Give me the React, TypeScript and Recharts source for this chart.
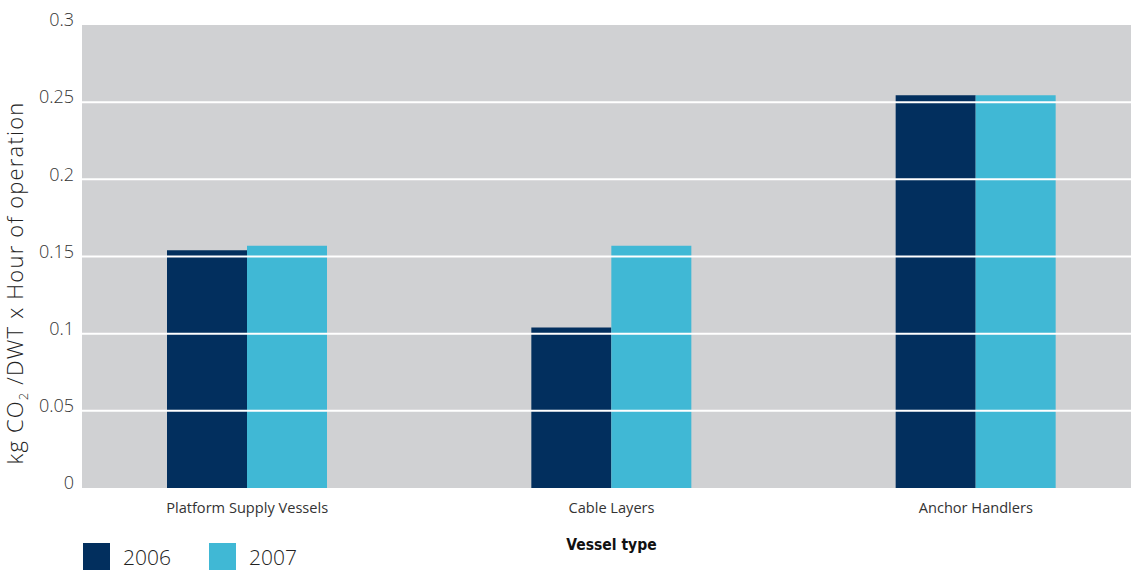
import { BarChart, Bar, XAxis, YAxis, CartesianGrid, ReferenceLine, Label } from 'recharts';

const categories = ['Platform Supply Vessels', 'Cable Layers', 'Anchor Handlers'];
const values2006 = [0.154, 0.104, 0.2545];
const values2007 = [0.157, 0.157, 0.2545];
const yTicks = [0, 0.05, 0.1, 0.15, 0.2, 0.25, 0.3];
const gridValues = [0.05, 0.1, 0.15, 0.2, 0.25];

const series = [
  { key: 'y2006', name: '2006', color: '#022f5e' },
  { key: 'y2007', name: '2007', color: '#40b8d5' },
];

const data = categories.map((name, i) => ({
  name,
  y2006: values2006[i],
  y2007: values2007[i],
}));

const FONT = '"Open Sans", "Noto Sans", sans-serif';

function YTick({ x, y, payload }: any) {
  return (
    <text x={x} y={y - 5} dy="0.35em" textAnchor="end" fontSize={18} fill="#333" fontFamily={FONT} fontWeight={300}>
      {payload.value}
    </text>
  );
}

function XTick({ x, y, payload }: any) {
  return (
    <text x={x} y={y + 17} textAnchor="middle" fontSize={14.6} fill="#333" fontFamily={FONT}>
      {payload.value}
    </text>
  );
}

function YTitle() {
  return (
    <text
      transform="translate(23, 283) rotate(-90)"
      textAnchor="middle"
      fontSize={22}
      letterSpacing={1.2}
      fill="#222"
      fontFamily={FONT}
      fontWeight={300}
    >
      kg CO
      <tspan fontSize={13} dy={5}>2</tspan>
      <tspan dy={-5}> /DWT x Hour of operation</tspan>
    </text>
  );
}

// legend sits below the axis title, near the bottom edge
function LegendBox() {
  return (
    <div style={{ position: 'absolute', left: 83, top: 543, display: 'flex', fontFamily: FONT }}>
      {series.map((s) => (
        <div key={s.key} style={{ display: 'flex', alignItems: 'center', width: 126, height: 27 }}>
          <div style={{ width: 27, height: 27, background: s.color }} />
          <span style={{ marginLeft: 13, fontSize: 21, lineHeight: '24px', color: '#222', fontWeight: 300 }}>{s.name}</span>
        </div>
      ))}
    </div>
  );
}

export default function App() {
  return (
    <div style={{ position: 'absolute', left: 0, top: 0, width: 1131, height: 571, background: '#fff', overflow: 'hidden' }}>
      <BarChart
        width={1131}
        height={571}
        data={data}
        margin={{ top: 25, right: 0, bottom: 0, left: 0 }}
        barSize={80}
        barGap={0}
      >
        <CartesianGrid horizontal={false} vertical={false} fill="#d0d1d3" />
        {gridValues.map((v) => (
          <ReferenceLine key={v} y={v} stroke="#ffffff" strokeWidth={2} />
        ))}
        <XAxis
          dataKey="name"
          height={83}
          axisLine={false}
          tickLine={false}
          tick={<XTick />}
          padding={{ left: -17, right: -27 }}
        >
          <Label
            value="Vessel type"
            position="insideTop"
            offset={51}
            dx={5}
            style={{ fontSize: 15.5, fontWeight: 700, fill: '#111', fontFamily: '"Liberation Sans Narrow", "DejaVu Sans Condensed", sans-serif' }}
          />
        </XAxis>
        <YAxis
          width={82}
          domain={[0, 0.3]}
          ticks={yTicks}
          axisLine={false}
          tickLine={false}
          tick={<YTick />}
        >
          <Label content={<YTitle />} />
        </YAxis>
        {series.map((s) => (
          <Bar key={s.key} dataKey={s.key} name={s.name} fill={s.color} isAnimationActive={false} />
        ))}
      </BarChart>
      <LegendBox />
    </div>
  );
}
